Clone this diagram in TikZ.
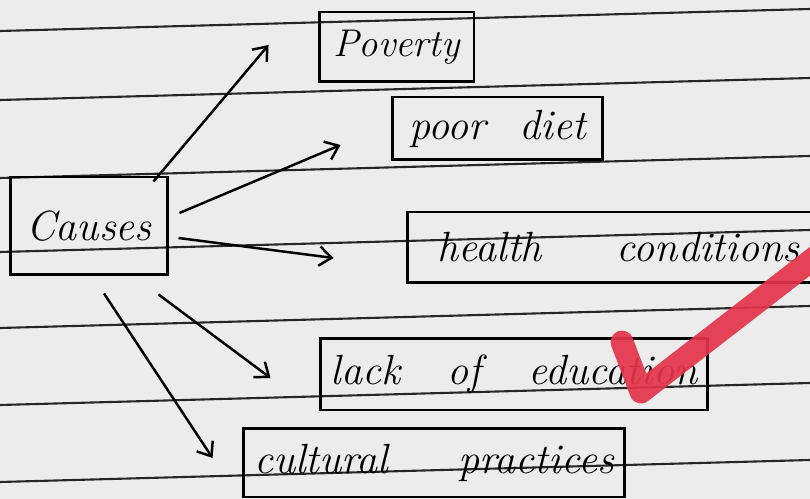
\documentclass[tikz,border=0pt]{standalone}
\usepackage{fontspec}
\usetikzlibrary{arrows.meta}
\definecolor{paperGray}{RGB}{236,236,236}
\definecolor{inkRed}{RGB}{228,52,74}
\begin{document}
\begin{tikzpicture}[x=0.02cm,y=-0.02cm,
    box/.style={draw=black,line width=1.7pt,inner sep=0pt,
      font=\fontsize{24}{28}\selectfont\itshape},
    arr/.style={-{Straight Barb[length=7pt,width=11pt,line width=1.4pt]},line width=1.4pt}
  ]
    \newcommand{\ruledLine}[1]{
        \draw[color=black!85,line width=1.2pt] (0,#1) -- (810,#1-22);
    }
  \useasboundingbox (0,0) rectangle (810,499);
  \clip (0,0) rectangle (810,499);
  \fill[paperGray] (0,0) rectangle (810,499);
  \foreach \y in {31,100,178,252,328,405,482} {\ruledLine{\y}}

  \node[box,minimum width=3.16cm,minimum height=1.96cm] (causes) at (89,226) {Causes};
  \node[box,minimum width=3.1cm,minimum height=1.4cm,font=\fontsize{22}{26}\selectfont\itshape] (poverty) at (396.5,47) {Poverty};
  \node[box,minimum width=4.22cm,minimum height=1.26cm] (diet) at (497.5,128.5) {poor\hspace{0.8em}diet};
  \node[box,minimum width=8.46cm,minimum height=1.42cm] (health) at (618.5,247.5) {health\hspace{1.5cm}conditions};
  \node[box,minimum width=7.76cm,minimum height=1.44cm] (lack) at (514,374) {lack\hspace{0.95cm}of\hspace{0.95cm}education};
  \node[box,minimum width=7.64cm,minimum height=1.38cm] (cultural) at (434,462.5) {cultural\hspace{1.4cm}practices};

  \draw[arr] ([xshift=-0.32cm,yshift=-0.12cm]causes.north east) -- ([xshift=-0.98cm,yshift=0.04cm]poverty.west);
  \draw[arr] ([xshift=0.2cm,yshift=0.26cm]causes.east) -- ([xshift=-1cm,yshift=-0.33cm]diet.west);
  \draw[arr] ([xshift=0.18cm,yshift=-0.24cm]causes.east) -- ([xshift=-1.44cm,yshift=-0.21cm]health.west);
  \draw[arr] ([xshift=-0.22cm,yshift=-0.36cm]causes.south east) -- ([xshift=-0.96cm,yshift=-0.08cm]lack.west);
  \draw[arr] ([xshift=0.3cm,yshift=-0.34cm]causes.south) -- ([xshift=-0.58cm,yshift=0.09cm]cultural.west);

  \draw[inkRed,opacity=0.92,line width=13pt,line cap=round,line join=round]
    (622,342) -- (641,392) -- (840,238);
\end{tikzpicture}
\end{document}
